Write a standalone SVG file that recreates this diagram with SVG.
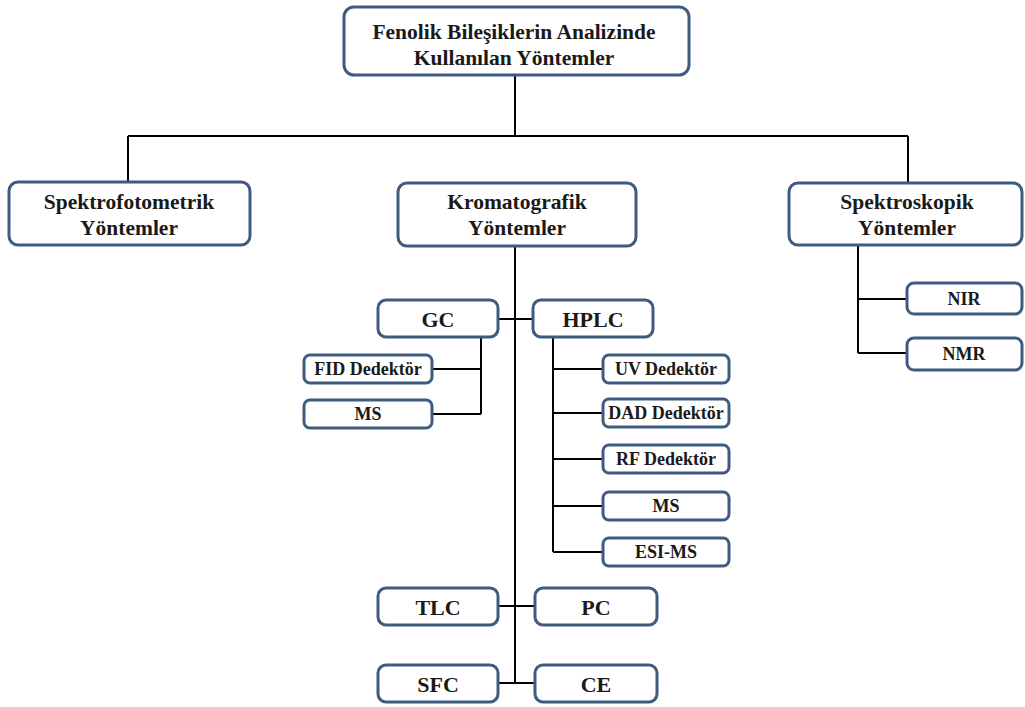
<svg xmlns="http://www.w3.org/2000/svg" width="1025" height="707" viewBox="0 0 1025 707">
  <style>
    .box { fill: #ffffff; stroke: #3f5b80; stroke-width: 3; }
    .wire { fill: none; stroke: #000000; stroke-width: 2; }
    .lbl { font-family: "Liberation Serif", "DejaVu Serif", serif; font-weight: bold; fill: #1a1a1a; text-anchor: middle; dominant-baseline: central; }
    .big { font-size: 21.5px; }
    .mid { font-size: 22px; }
    .small { font-size: 18px; }
  </style>
  <rect width="1025" height="707" fill="#ffffff"/>

  <!-- connectors -->
  <g id="connectors" class="wire">
    <path d="M515 75 V136 M128 136 H908 M128 136 V182 M908 136 V182"/>
    <path d="M515 246 V683"/>
    <path d="M498 319 H533"/>
    <path d="M481 337 V414 M432 369 H481 M432 414 H481"/>
    <path d="M553 337 V552 M553 369 H603 M553 413 H603 M553 459 H603 M553 506 H603 M553 552 H603"/>
    <path d="M498 606 H535"/>
    <path d="M498 683 H535"/>
    <path d="M858 246 V353 M858 299 H907 M858 353 H907"/>
  </g>

  <g class="lbl">
  <!-- root -->
  <g id="root">
    <rect class="box" x="344" y="7" width="345" height="68" rx="10"/>
    <text class="big" x="514" y="32">Fenolik Bileşiklerin Analizinde</text>
    <text class="big" x="514" y="58">Kullanılan Yöntemler</text>
  </g>

  <!-- first level -->
  <g id="spektrofotometrik">
    <rect class="box" x="9" y="182" width="241" height="63" rx="9"/>
    <text class="big" x="129" y="202">Spektrofotometrik</text>
    <text class="big" x="129" y="228">Yöntemler</text>
  </g>
  <g id="kromatografik">
    <rect class="box" x="398" y="183" width="238" height="63" rx="9"/>
    <text class="big" x="517" y="202">Kromatografik</text>
    <text class="big" x="517" y="228">Yöntemler</text>
  </g>
  <g id="spektroskopik">
    <rect class="box" x="789" y="183" width="233" height="62" rx="9"/>
    <text class="big" x="907" y="202">Spektroskopik</text>
    <text class="big" x="907" y="228">Yöntemler</text>
  </g>

  <!-- chromatographic methods -->
  <g id="gc">
    <rect class="box" x="378" y="300" width="120" height="37" rx="8"/>
    <text class="mid" x="438" y="319">GC</text>
  </g>
  <g id="hplc">
    <rect class="box" x="533" y="300" width="120" height="37" rx="8"/>
    <text class="mid" x="593" y="319">HPLC</text>
  </g>
  <g id="gc-fid">
    <rect class="box" x="304" y="355" width="128" height="28" rx="6"/>
    <text class="small" x="368" y="369">FID Dedektör</text>
  </g>
  <g id="gc-ms">
    <rect class="box" x="304" y="400" width="128" height="28" rx="6"/>
    <text class="small" x="368" y="414">MS</text>
  </g>
  <g id="hplc-uv">
    <rect class="box" x="603" y="355" width="126" height="28" rx="6"/>
    <text class="small" x="666" y="369">UV Dedektör</text>
  </g>
  <g id="hplc-dad">
    <rect class="box" x="603" y="399" width="126" height="28" rx="6"/>
    <text class="small" x="666" y="413">DAD Dedektör</text>
  </g>
  <g id="hplc-rf">
    <rect class="box" x="603" y="445" width="126" height="28" rx="6"/>
    <text class="small" x="666" y="459">RF Dedektör</text>
  </g>
  <g id="hplc-ms">
    <rect class="box" x="603" y="492" width="126" height="28" rx="6"/>
    <text class="small" x="666" y="506">MS</text>
  </g>
  <g id="hplc-esims">
    <rect class="box" x="603" y="538" width="126" height="28" rx="6"/>
    <text class="small" x="666" y="552">ESI-MS</text>
  </g>
  <g id="tlc">
    <rect class="box" x="378" y="588" width="120" height="37" rx="8"/>
    <text class="mid" x="438" y="607">TLC</text>
  </g>
  <g id="pc">
    <rect class="box" x="535" y="588" width="122" height="37" rx="8"/>
    <text class="mid" x="596" y="607">PC</text>
  </g>
  <g id="sfc">
    <rect class="box" x="378" y="665" width="120" height="37" rx="8"/>
    <text class="mid" x="438" y="684">SFC</text>
  </g>
  <g id="ce">
    <rect class="box" x="535" y="665" width="122" height="37" rx="8"/>
    <text class="mid" x="596" y="684">CE</text>
  </g>

  <!-- spectroscopic methods -->
  <g id="nir">
    <rect class="box" x="907" y="283" width="115" height="31" rx="7"/>
    <text class="small" x="964" y="299">NIR</text>
  </g>
  <g id="nmr">
    <rect class="box" x="907" y="338" width="115" height="32" rx="7"/>
    <text class="small" x="964" y="354">NMR</text>
  </g>
  </g>
</svg>
